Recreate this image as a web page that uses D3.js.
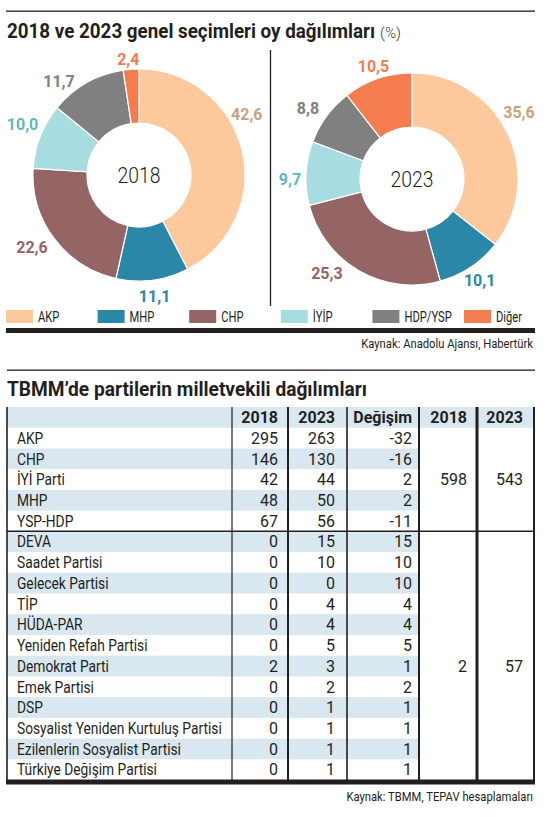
<!DOCTYPE html>
<html><head><meta charset="utf-8">
<script src="https://cdn.jsdelivr.net/npm/d3@7"></script>
<style>html,body{margin:0;padding:0;background:#fff;}svg{display:block;}</style>
</head><body>
<script>
// ---------- DATA ----------
const parties = ["AKP", "MHP", "CHP", "İYİP", "HDP/YSP", "Diğer"];
const share2018 = [42.6, 11.1, 22.6, 10.0, 11.7, 2.4];
const share2023 = [35.6, 10.1, 25.3, 9.7, 8.8, 10.5];
const donutYears = ["2018", "2023"];

const tableParties = ["AKP", "CHP", "İYİ Parti", "MHP", "YSP-HDP", "DEVA", "Saadet Partisi",
  "Gelecek Partisi", "TİP", "HÜDA-PAR", "Yeniden Refah Partisi", "Demokrat Parti", "Emek Partisi",
  "DSP", "Sosyalist Yeniden Kurtuluş Partisi", "Ezilenlerin Sosyalist Partisi", "Türkiye Değişim Partisi"];
const seats2018 = [295, 146, 42, 48, 67, 0, 0, 0, 0, 0, 0, 2, 0, 0, 0, 0, 0];
const seats2023 = [263, 130, 44, 50, 56, 15, 10, 0, 4, 4, 5, 3, 2, 1, 1, 1, 1];
const seatChange = [-32, -16, 2, 2, -11, 15, 10, 10, 4, 4, 5, 1, 2, 1, 1, 1, 1];
const groupSizes = [5, 12];
const groupTotal2018 = [598, 2];
const groupTotal2023 = [543, 57];
const tableHeaders = ["", "2018", "2023", "Değişim", "2018", "2023"];

const title1 = "2018 ve 2023 genel seçimleri oy dağılımları";
const title1Unit = "(%)";
const source1 = "Kaynak: Anadolu Ajansı, Habertürk";
const title2 = "TBMM’de partilerin milletvekili dağılımları";
const source2 = "Kaynak: TBMM, TEPAV hesaplamaları";

// ---------- STYLE / LAYOUT ----------
const sliceColors = ["#fdc99c", "#2b87a7", "#956464", "#a7dce0", "#808081", "#f47c4f"];
const labelColors = ["#c9a27d", "#2b87a7", "#956464", "#5db8c1", "#808081", "#f47c4f"];
const labelNudge = [[-16, 0, 3, 2, -11, -1], [-6, 0, 12, -3, -2, 0]];
const labelDist = [[124, 122, 129, 127, 123, 116], [126, 122, 127, 122, 126, 119]];
const FONT = "Roboto, 'Open Sans', sans-serif";
const INK = "#231f20";
const STRIPE = "#d9e7f0";

const W = 550, H = 817;
const svg = d3.select("body").append("svg").attr("width", W).attr("height", H);

function T(parent, x, y, s, o) {
  o = o || {};
  return parent.append("text")
    .attr("transform", `translate(${x},${y}) scale(${o.sx || 1},1)`)
    .attr("font-family", FONT)
    .attr("font-size", o.size || 14)
    .attr("font-weight", o.weight || 400)
    .attr("fill", o.fill || INK)
    .attr("text-anchor", o.anchor || "start")
    .text(s);
}

// ---------- TOP SECTION ----------
svg.append("rect").attr("x", 6).attr("y", 10.5).attr("width", 529).attr("height", 1.3).attr("fill", INK);
const t1sx = 0.95;
const t1 = T(svg, 7, 38, title1, { size: 19.8, weight: 700, sx: t1sx });
const t1w = t1.node().getComputedTextLength() * t1sx;
T(svg, 7 + t1w + 5, 38, title1Unit, { size: 15, weight: 300, fill: "#333" });

// divider between donuts
svg.append("line").attr("x1", 270.5).attr("x2", 270.5).attr("y1", 50).attr("y2", 306)
  .attr("stroke", INK).attr("stroke-width", 1.3);

const centers = [[139, 175], [412, 179]];
const shares = [share2018, share2023];
const outerR = 106, innerR = 52;
const pie = d3.pie().sort(null).value(d => d);
const arc = d3.arc().innerRadius(innerR).outerRadius(outerR);
const fmt = v => v.toFixed(1).replace(".", ",");

shares.forEach((vals, k) => {
  const g = svg.append("g").attr("transform", `translate(${centers[k][0]},${centers[k][1]})`);
  const arcs = pie(vals);
  g.selectAll("path").data(arcs).join("path")
    .attr("d", arc)
    .attr("fill", (d, i) => sliceColors[i])
    .attr("stroke", "#fff").attr("stroke-width", 1.2);
  arcs.forEach((d, i) => {
    const a = (d.startAngle + d.endAngle) / 2 + labelNudge[k][i] * Math.PI / 180;
    const r = labelDist[k][i];
    const x = r * Math.sin(a), y = -r * Math.cos(a);
    T(g, x, y + 5.8, fmt(d.data), { size: 16, weight: 700, fill: labelColors[i], anchor: "middle" });
  });
  T(g, 0, 8, donutYears[k], { size: 22, weight: 300, anchor: "middle", sx: 0.88 });
});

// legend
const legendX = d3.scalePoint().domain(parties).range([6, 464]);
const lg = svg.append("g");
parties.forEach((p, i) => {
  const x = legendX(p);
  lg.append("rect").attr("x", x).attr("y", 310).attr("width", 27).attr("height", 13).attr("fill", sliceColors[i]);
  T(lg, x + 32, 322, p, { size: 14, sx: 0.8 });
});
svg.append("rect").attr("x", 6).attr("y", 328).attr("width", 529).attr("height", 5).attr("fill", INK);
T(svg, 533, 347.5, source1, { size: 12.5, anchor: "end", sx: 0.9 });

// ---------- TABLE SECTION ----------
svg.append("rect").attr("x", 7).attr("y", 369.5).attr("width", 528).attr("height", 1.3).attr("fill", INK);
T(svg, 7, 396, title2, { size: 20.8, weight: 700, sx: 0.92 });

const colEdges = [7, 232, 288, 347, 419, 477, 534];
const colPad = [10, 10, 12, 7, 10, 11];
const colLine = [1.6, 1.2, 2, 1.6, 2, 3, 2];
const tableTop = 407, tableBottom = 780;
const y = d3.scaleBand().domain(d3.range(-1, tableParties.length)).range([tableTop, tableBottom]);
const rh = y.bandwidth();
const tg = svg.append("g");

// header background
tg.append("rect").attr("x", colEdges[0]).attr("y", y(-1)).attr("width", colEdges[6] - colEdges[0])
  .attr("height", rh).attr("fill", STRIPE);
// stripes
tableParties.forEach((p, i) => {
  if (i % 2 === 1) {
    tg.append("rect").attr("x", colEdges[0]).attr("y", y(i)).attr("width", colEdges[4] - colEdges[0])
      .attr("height", rh).attr("fill", STRIPE);
  }
});
// header text
tableHeaders.forEach((h, c) => {
  if (c === 0 || !h) return;
  T(tg, colEdges[c + 1] - colPad[c], y(-1) + rh / 2 + 5.8, h, { size: 16, weight: 700, anchor: "end" });
});
// rows
tableParties.forEach((p, i) => {
  const by = y(i) + rh / 2 + 5.8;
  T(tg, colEdges[0] + 10, by, p, { size: 16.2, sx: 0.85 });
  [seats2018[i], seats2023[i], seatChange[i]].forEach((v, c) => {
    T(tg, colEdges[c + 2] - colPad[c + 1], by, String(v), { size: 16, anchor: "end" });
  });
});
// group totals and separators
let start = 0;
groupSizes.forEach((n, gi) => {
  const mid = start + Math.floor(n / 2);
  const by = y(mid) + rh / 2 + 5.8;
  T(tg, colEdges[5] - colPad[4], by, String(groupTotal2018[gi]), { size: 16, anchor: "end" });
  T(tg, colEdges[6] - colPad[5], by, String(groupTotal2023[gi]), { size: 16, anchor: "end" });
  start += n;
  if (gi < groupSizes.length - 1) {
    tg.append("line").attr("x1", colEdges[0]).attr("x2", colEdges[6])
      .attr("y1", y(start)).attr("y2", y(start)).attr("stroke", INK).attr("stroke-width", 1.5);
  }
});
// vertical lines
colEdges.forEach((x, i) => {
  tg.append("line").attr("x1", x).attr("x2", x).attr("y1", tableTop).attr("y2", tableBottom)
    .attr("stroke", INK).attr("stroke-width", colLine[i]);
});
svg.append("rect").attr("x", 6).attr("y", 779.5).attr("width", 529).attr("height", 5).attr("fill", INK);
T(svg, 533, 800.5, source2, { size: 12.5, anchor: "end", sx: 0.9 });
</script>
</body></html>
